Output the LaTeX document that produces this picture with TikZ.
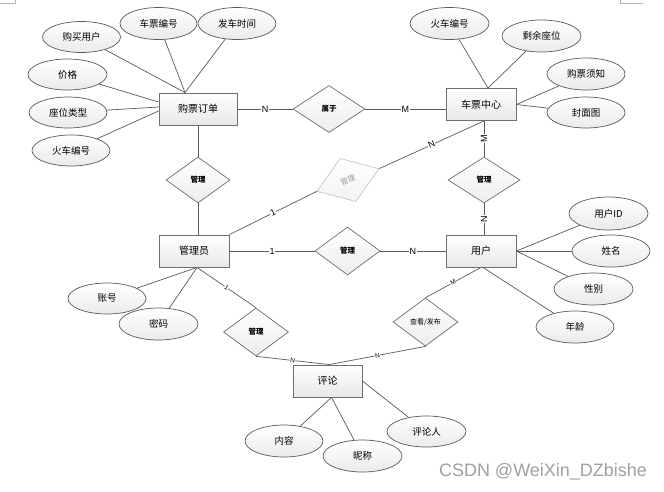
\documentclass[tikz,border=0pt]{standalone}
\usepackage{fontspec}
\setmainfont{Liberation Sans}
\newfontfamily\cjk{Noto Sans CJK SC}
\usetikzlibrary{shapes.geometric,calc}
\definecolor{edgegray}{HTML}{5A5A5A}
\definecolor{boxgray}{HTML}{6E6E6E}
\definecolor{fadegray}{HTML}{C8C8C8}
\definecolor{marktext}{HTML}{A0A0A0}
\tikzset{
  entity/.style={rectangle, draw=boxgray, line width=0.9pt, top color=white, bottom color=gray!18,
    minimum width=70pt, minimum height=32pt, inner sep=0pt, font=\cjk\fontsize{10}{12}\selectfont},
  attr/.style={ellipse, draw=edgegray, line width=0.7pt, top color=white, bottom color=gray!16,
    minimum width=78pt, minimum height=31pt, inner sep=0pt, font=\cjk\fontsize{9.5}{11}\selectfont},
  rel/.style={diamond, draw=boxgray, line width=0.7pt, top color=white, bottom color=gray!14,
    minimum width=65pt, minimum height=47pt, inner sep=0pt, font=\cjk\bfseries\fontsize{7.5}{9}\selectfont},
  fadedrel/.style={diamond, draw=fadegray, line width=0.7pt, top color=white, bottom color=gray!10,
    minimum width=66pt, minimum height=46pt, inner sep=0pt, text=gray!80, font=\cjk\fontsize{7.5}{9}\selectfont},
  conn/.style={draw=edgegray, line width=0.7pt},
  tconn/.style={draw=gray!70!black, line width=1pt},
  card/.style={font=\fontsize{9}{10}\selectfont, inner sep=0.6pt, fill=white},
  smallcard/.style={font=\fontsize{6.5}{7}\selectfont, inner sep=0.4pt, fill=white},
  cornermark/.style={draw=gray!60, line width=0.6pt}
}
\begin{document}
\begin{tikzpicture}[x=1pt,y=-1pt]
\useasboundingbox (0,0) rectangle (664,491);
\fill[white] (0,0) rectangle (664,491);
% page corner marks
\coordinate (tl1) at (0,3); \coordinate (tl2) at (15,3); \coordinate (tl3) at (15,0);
\draw[cornermark] (tl1) -- (tl2) -- (tl3);
\coordinate (tr1) at (620,0); \coordinate (tr2) at (620,3); \coordinate (tr3) at (643,3);
\draw[cornermark] (tr1) -- (tr2) -- (tr3);

% entities
\node[entity, minimum width=78pt] (po) at (198,109) {购票订单};
\node[entity] (tc) at (481,104.5) {车票中心};
\node[entity] (gl) at (194,251) {管理员};
\node[entity] (yh) at (481,251) {用户};
\node[entity, minimum width=69pt] (pl) at (327.5,381) {评论};

% relationships
\node[rel, minimum width=72pt] (r1) at (329,109) {属于};
\node[rel, minimum width=64pt, minimum height=46pt] (r2) at (198,180) {管理};
\node[rel, minimum width=72pt, minimum height=46pt] (r3) at (484,180) {管理};
\node[rel, minimum height=48pt] (r4) at (347.5,251) {管理};
\node[rel, minimum height=48pt] (r5) at (256,332) {管理};
\node[rel, minimum height=48pt, font=\cjk\fontsize{7}{8}\selectfont] (r6) at (425.5,322) {查看/发布};
\node[fadedrel, rotate=20] (fd) at (348,180) {管理};

% attributes
\node[attr] (a1) at (81.5,37) {购买用户};
\node[attr, minimum width=77pt, minimum height=32pt] (a2) at (158.5,23.5) {车票编号};
\node[attr, minimum height=32pt] (a3) at (237,23.5) {发车时间};
\node[attr, minimum width=79pt] (a4) at (67.5,74.5) {价格};
\node[attr] (a5) at (68,112.5) {座位类型};
\node[attr] (a6) at (71,150.5) {火车编号};
\node[attr, minimum width=79pt, minimum height=32pt] (b1) at (449.5,23.5) {火车编号};
\node[attr, minimum width=79pt, minimum height=32pt] (b2) at (541.5,36) {剩余座位};
\node[attr, minimum height=32pt] (b3) at (586,74) {购票须知};
\node[attr] (b4) at (586,112.5) {封面图};
\node[attr, minimum width=79pt, minimum height=33pt] (c1) at (608.5,213.5) {用户ID};
\node[attr, minimum height=32pt] (c2) at (611,251) {姓名};
\node[attr, minimum width=79pt, minimum height=32pt] (c3) at (593.5,289) {性别};
\node[attr, minimum height=32pt] (c4) at (575,327) {年龄};
\node[attr, minimum width=79pt] (d1) at (426.5,431.5) {评论人};
\node[attr, minimum width=79pt, minimum height=32pt] (d2) at (362.5,456) {昵称};
\node[attr, minimum height=32pt] (d3) at (284,441) {内容};
\node[attr] (e1) at (107,298.5) {账号};
\node[attr, minimum width=79pt, minimum height=32pt] (e2) at (158.5,324) {密码};

% attribute connectors
\draw[conn] (a1) -- ([xshift=-13pt]po.north);
\draw[conn] (a2) -- ([xshift=-13pt]po.north);
\draw[conn] (a3) -- ([xshift=-13pt]po.north);
\draw[conn] (a4) -- ([yshift=7pt]po.west);
\draw[conn] (a5) -- ([yshift=2pt]po.west);
\draw[conn] (a6) -- ([yshift=-2pt]po.west);
\draw[conn] (b1) -- ([xshift=7pt]tc.north);
\draw[conn] (b2) -- ([xshift=7pt]tc.north);
\draw[conn] (b3) -- (tc.east);
\draw[conn] (b4) -- (tc.east);
\draw[conn] (c1) -- (yh.east);
\draw[conn] (c2) -- (yh.east);
\draw[conn] (c3) -- (yh.east);
\draw[conn] (c4) -- ([xshift=2pt]yh.south);
\draw[conn] (e1) -- ([xshift=3pt]gl.south);
\draw[conn] (e2) -- ([xshift=3pt]gl.south);
\draw[conn] (d1) -- (pl.east);
\draw[conn] (d2) -- ([xshift=4pt]pl.south);
\draw[conn] (d3) -- ([xshift=4pt]pl.south);

% relationship connectors
\draw[tconn] (po.east |- r1.west) -- node[card] {N} (r1.west);
\draw[tconn] (r1.east) -- node[card] {M} (r1.east -| tc.west);
\draw[tconn] (r2.north |- po.south) -- (r2.north);
\draw[tconn] (r2.south) -- (r2.south |- gl.north);
\draw[tconn] (r3.north |- tc.south) -- node[card, rotate=90] {M} (r3.north);
\draw[tconn] (r3.south) -- node[card, rotate=90] {N} (r3.south |- yh.north);
\draw[conn] (gl.east) -- node[card] {1} (r4.west);
\draw[conn] (r4.east) -- node[card] {N} (yh.west);
\draw[conn] (gl.north east) -- node[card, sloped] {1} (fd.west);
\draw[conn] (fd.east) -- node[card, sloped] {N} (r3.north |- tc.south);
\draw[conn] ([xshift=3pt]gl.south) -- node[smallcard, sloped] {1} (r5.north);
\draw[conn] (r5.south) -- node[smallcard, sloped] {N} ([xshift=2pt]pl.north);
\draw[conn] (yh.south) -- node[smallcard, sloped] {M} (r6.north);
\draw[conn] (r6.south) -- node[smallcard, sloped] {N} ([xshift=2pt]pl.north);

% watermark
\node[text=marktext, font=\fontsize{18}{20}\selectfont, inner sep=0pt] (wm) at (543,472) {CSDN @WeiXin\_DZbishe};
\end{tikzpicture}
\end{document}
